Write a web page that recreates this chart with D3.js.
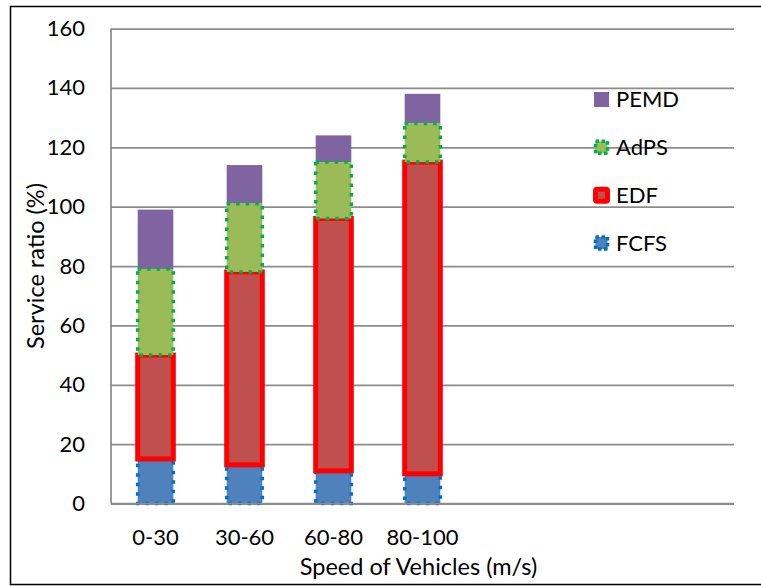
<!DOCTYPE html>
<html>
<head>
<meta charset="utf-8">
<script src="https://cdn.jsdelivr.net/npm/d3@7"></script>
<style>
  body { margin: 0; background: #fff; }
  svg { display: block; }
  text { font-family: Lato, "Open Sans", sans-serif; fill: #000; }
</style>
</head>
<body>
<svg id="chart" width="761" height="586"></svg>
<script>
// Service ratio per speed band, stacked by scheduling scheme
const categories = ["0-30", "30-60", "60-80", "80-100"];
const emptySlots = 3;            // unused category slots kept on the right of the axis
const seriesNames = ["FCFS", "EDF", "AdPS", "PEMD"];
const fcfs = [15, 13, 11, 10];
const edf  = [35, 65, 85, 105];
const adps = [29, 23, 19, 13];
const pemd = [20, 13, 9, 10];
const yTicks = [0, 20, 40, 60, 80, 100, 120, 140, 160];
const yTitle = "Service ratio (%)";
const xTitle = "Speed of Vehicles (m/s)";

const values = { FCFS: fcfs, EDF: edf, AdPS: adps, PEMD: pemd };
const styles = {
  FCFS: { fill: "#4F81BD", stroke: "#0070C0", width: 3.5, dash: "3.5 6" },
  EDF:  { fill: "#C0504D", stroke: "#FF0000", width: 5, dash: null },
  AdPS: { fill: "#9BBB59", stroke: "#00B050", width: 3.5, dash: "3.5 6" },
  PEMD: { fill: "#8064A2", stroke: "none",    width: 0,   dash: null }
};

const rows = categories.map((c, i) => {
  const r = { idx: i, cat: c };
  seriesNames.forEach(s => r[s] = values[s][i]);
  return r;
});
const stacked = d3.stack().keys(seriesNames)(rows);

const svg = d3.select("#chart");
const plotL = 111, plotR = 734, plotT = 28.5, plotB = 503.5;

const x = d3.scaleBand()
  .domain(d3.range(categories.length + emptySlots))
  .range([plotL, plotR])
  .paddingInner(0.6)
  .paddingOuter(0.3);
const y = d3.scaleLinear().domain([0, 160]).range([plotB, plotT]);

// outer frame
svg.append("rect")
  .attr("x", 10.5).attr("y", 6.5)
  .attr("width", 780).attr("height", 578)
  .attr("fill", "none").attr("stroke", "#000").attr("stroke-width", 1.5);

// horizontal gridlines with value labels
const yAxis = svg.append("g")
  .attr("transform", `translate(${plotL},0)`)
  .call(d3.axisLeft(y).tickValues(yTicks).tickSize(-(plotR - plotL)).tickPadding(26));
yAxis.select(".domain").remove();
yAxis.selectAll(".tick line").attr("stroke", "#8C8C8C").attr("stroke-width", 1.75);
yAxis.selectAll(".tick text")
  .style("font-size", "22px").attr("fill", "#000")
  .attr("font-family", "Lato");

// vertical axis line
svg.append("line")
  .attr("x1", plotL).attr("x2", plotL)
  .attr("y1", y(160)).attr("y2", y(0))
  .attr("stroke", "#8C8C8C").attr("stroke-width", 1.75);

// bars, drawn so the dotted AdPS outline sits on top
const drawOrder = ["FCFS", "EDF", "PEMD", "AdPS"];
drawOrder.forEach(name => {
  const layer = stacked.find(s => s.key === name);
  const st = styles[name];
  svg.append("g")
    .selectAll("rect")
    .data(layer)
    .join("rect")
    .attr("x", d => x(d.data.idx))
    .attr("width", x.bandwidth())
    .attr("y", d => y(d[1]))
    .attr("height", d => y(d[0]) - y(d[1]))
    .attr("fill", st.fill)
    .attr("stroke", st.stroke)
    .attr("stroke-width", st.width)
    .attr("stroke-dasharray", st.dash);
});

// category labels
const xAxis = svg.append("g")
  .attr("transform", `translate(0,${plotB})`)
  .call(d3.axisBottom(x)
    .tickValues(d3.range(categories.length))
    .tickFormat(i => categories[i])
    .tickSize(0).tickPadding(26));
xAxis.select(".domain")
  .attr("d", `M${plotL},0H${plotR}`)
  .attr("stroke", "#8C8C8C").attr("stroke-width", 1.75);
xAxis.selectAll(".tick text").style("font-size", "22px").attr("fill", "#000");

// axis titles
svg.append("text")
  .attr("x", (plotL + plotR) / 2 - 4).attr("y", 575)
  .attr("text-anchor", "middle")
  .style("font-size", "23.5px")
  .text(xTitle);
svg.append("text")
  .attr("transform", `translate(44,${(plotT + plotB) / 2}) rotate(-90)`)
  .attr("text-anchor", "middle")
  .style("font-size", "23.5px")
  .text(yTitle);

// legend, top series first
const legendY = d3.scalePoint().domain(seriesNames.slice().reverse()).range([99.5, 243]);
const legend = svg.append("g");
seriesNames.slice().reverse().forEach(name => {
  const st = styles[name];
  const g = legend.append("g").attr("transform", `translate(594,${legendY(name)})`);
  const sz = name === "PEMD" ? 15 : 12;
  g.append("rect")
    .attr("x", (15 - sz) / 2).attr("y", -sz / 2)
    .attr("width", sz).attr("height", sz)
    .attr("rx", name === "EDF" ? 1.5 : 0)
    .attr("fill", st.fill)
    .attr("stroke", st.stroke)
    .attr("stroke-width", st.width)
    .attr("stroke-dasharray", name === "EDF" ? null : (st.dash ? "3.5 2.5" : null));
  g.append("text")
    .attr("x", 22).attr("dy", "0.36em")
    .style("font-size", "22px")
    .text(name);
});
</script>
</body>
</html>
